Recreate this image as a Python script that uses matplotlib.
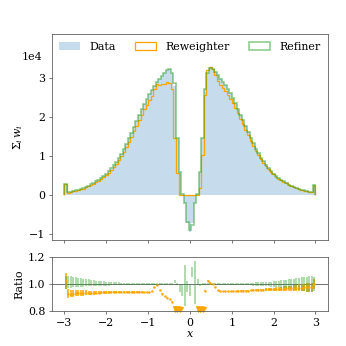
import numpy as np
import matplotlib
matplotlib.use("Agg")
import matplotlib.pyplot as plt
from matplotlib.patches import Patch

plt.rcParams['font.family'] = ['DejaVu Serif']
plt.rcParams['mathtext.fontset'] = 'dejavuserif'
plt.rcParams['font.size'] = 11

# 99 bins between -3 and 3
edges = np.linspace(-3, 3, 100)

# sum of weights in the data, units of 1e4
data = [0.28, 0.07, 0.085, 0.10, 0.12, 0.14, 0.16, 0.18, 0.21, 0.24,
        0.27, 0.31, 0.35, 0.39, 0.44, 0.49, 0.55, 0.61, 0.68, 0.76,
        0.85, 0.95, 1.06, 1.18, 1.31, 1.45, 1.59, 1.74, 1.89, 2.04,
        2.19, 2.33, 2.46, 2.58, 2.69, 2.79, 2.88, 2.96, 3.04, 3.12,
        3.20, 3.22, 3.12, 2.80, 1.45, 0.60, 0.03, -0.21, -0.70,
        -0.94,
        -0.70, -0.21, 0.03, 0.60, 1.45, 2.70, 3.12, 3.25, 3.22, 3.14,
        3.06, 2.98, 2.90, 2.81, 2.71, 2.60, 2.48, 2.35, 2.21, 2.06,
        1.91, 1.76, 1.61, 1.46, 1.32, 1.19, 1.07, 0.96, 0.86, 0.77,
        0.69, 0.62, 0.55, 0.49, 0.44, 0.39, 0.35, 0.31, 0.27, 0.24,
        0.21, 0.18, 0.16, 0.14, 0.12, 0.10, 0.085, 0.07, 0.26]

nan = np.nan
# reweighter / data
rw_ratio = [1.02, 0.93, 0.93, 0.93, 0.932, 0.932, 0.934, 0.934, 0.935, 0.935,
            0.936, 0.936, 0.937, 0.937, 0.938, 0.938, 0.939, 0.939, 0.94, 0.94,
            0.94, 0.94, 0.94, 0.94, 0.94, 0.94, 0.94, 0.94, 0.94, 0.94,
            0.94, 0.94, 0.94, 0.94, 0.945, 0.975, 0.99, 0.955, 0.93, 0.91,
            0.90, 0.89, 0.87, 0.52, 0.39, 0.0, nan, nan, nan,
            nan,
            nan, nan, 0.0, 0.3, 0.7, 0.95, 1.025, 1.01, 1.0, 0.975,
            0.955, 0.945, 0.945, 0.945, 0.945, 0.945, 0.946, 0.947, 0.948, 0.949,
            0.95, 0.951, 0.952, 0.953, 0.954, 0.955, 0.956, 0.957, 0.958, 0.96,
            0.961, 0.962, 0.963, 0.964, 0.965, 0.966, 0.967, 0.968, 0.969, 0.97,
            0.971, 0.972, 0.973, 0.974, 0.975, 0.975, 0.976, 0.976, 1.0]
rw_err = [0.06, 0.03, 0.028, 0.026, 0.024, 0.022, 0.021, 0.02, 0.018, 0.017,
          0.016, 0.015, 0.014, 0.013, 0.012, 0.011, 0.011, 0.01, 0.009, 0.009,
          0.008, 0.008, 0.007, 0.007, 0.006, 0.006, 0.006, 0.005, 0.005, 0.005,
          0.005, 0.004, 0.004, 0.004, 0.004, 0.004, 0.004, 0.004, 0.003, 0.003,
          0.003, 0.003, 0.003, 0.005, 0.008, 0.0, 0.0, 0.0, 0.0,
          0.0,
          0.0, 0.0, 0.0, 0.0, 0.008, 0.004, 0.003, 0.003, 0.003, 0.003,
          0.003, 0.003, 0.004, 0.004, 0.004, 0.004, 0.004, 0.004, 0.005, 0.005,
          0.005, 0.005, 0.006, 0.006, 0.006, 0.007, 0.007, 0.008, 0.008, 0.009,
          0.009, 0.01, 0.011, 0.012, 0.013, 0.014, 0.015, 0.016, 0.018, 0.019,
          0.021, 0.023, 0.025, 0.027, 0.029, 0.031, 0.033, 0.035, 0.04]

# refiner / data
rf_ratio = [1.01, 1.015, 1.015, 1.014, 1.013, 1.012, 1.011, 1.01, 1.01, 1.009,
            1.008, 1.007, 1.006, 1.005, 1.005, 1.004, 1.004, 1.003, 1.003, 1.002,
            1.002, 1.002, 1.001, 1.001, 1.001, 1.0, 1.0, 1.0, 1.0, 1.0,
            1.0, 1.0, 1.0, 1.0, 1.0, 1.0, 1.0, 1.0, 1.0, 1.0,
            1.0, 1.0, 1.0, 1.02, 1.0, 0.965, 0.95, 0.99, 0.98,
            0.95,
            1.09, 1.01, 1.02, 0.995, 1.0, 1.0, 1.0, 1.0, 1.0, 1.0,
            1.0, 1.0, 1.0, 1.0, 1.0, 1.0, 1.0, 1.0, 1.0, 1.0,
            1.0, 1.0, 1.0, 1.0, 1.0, 1.0, 1.0, 1.0, 1.0, 1.0,
            1.0, 1.0, 1.0, 1.0, 1.0, 1.0, 1.0, 1.0, 1.0, 1.0,
            1.0, 1.0, 1.0, 1.0, 1.0, 1.0, 1.0, 1.0, 1.0]
rf_err = [0.05, 0.045, 0.042, 0.039, 0.036, 0.033, 0.031, 0.029, 0.027, 0.025,
          0.023, 0.021, 0.02, 0.019, 0.017, 0.016, 0.015, 0.014, 0.013, 0.012,
          0.011, 0.01, 0.01, 0.009, 0.009, 0.008, 0.008, 0.007, 0.007, 0.007,
          0.006, 0.006, 0.006, 0.006, 0.005, 0.005, 0.005, 0.005, 0.005, 0.005,
          0.005, 0.005, 0.005, 0.01, 0.005, 0.025, 0.04, 0.15, 0.04,
          0.04,
          0.04, 0.16, 0.02, 0.007, 0.005, 0.005, 0.005, 0.005, 0.005, 0.005,
          0.005, 0.005, 0.005, 0.005, 0.005, 0.006, 0.006, 0.006, 0.007, 0.007,
          0.008, 0.008, 0.009, 0.01, 0.011, 0.012, 0.013, 0.014, 0.015, 0.016,
          0.018, 0.019, 0.021, 0.023, 0.025, 0.027, 0.029, 0.032, 0.035, 0.038,
          0.041, 0.044, 0.047, 0.05, 0.053, 0.056, 0.058, 0.06, 0.05]

centers = 0.5 * (edges[1:] + edges[:-1])
data = np.array(data) * 1e4
rw_ratio = np.array(rw_ratio)
rf_ratio = np.array(rf_ratio)
rw_err = np.array(rw_err)
rf_err = np.array(rf_err)
reweighter = data * np.nan_to_num(rw_ratio, nan=0.0)
refiner = data * rf_ratio

fig = plt.figure(figsize=(346 / 72, 346 / 72), dpi=72)
ax = fig.add_axes([0.150, 0.306, 0.798, 0.596])
rax = fig.add_axes([0.150, 0.101, 0.798, 0.156], sharex=ax)

spine_col = '0.35'
for a in (ax, rax):
    for s in a.spines.values():
        s.set_color(spine_col)
    a.tick_params(colors='black', length=3, color=spine_col)

ax.hist(centers, bins=edges, weights=data, histtype='stepfilled',
        color='C0', alpha=0.25, label='Data')
ax.hist(centers, bins=edges, weights=reweighter, histtype='step',
        color='orange', lw=1.3, label='Reweighter')
ax.hist(centers, bins=edges, weights=refiner, histtype='step',
        color='C2', alpha=0.55, lw=1.6, label='Refiner')

ax.set_xlim(-3.3, 3.3)
ax.set_ylim(-1.15e4, 4.12e4)
ax.set_yticks([-1e4, 0, 1e4, 2e4, 3e4])
ax.ticklabel_format(axis='y', style='sci', scilimits=(0, 0))
ax.yaxis.get_offset_text().set_visible(False)
ax.text(-0.035, 0.888, '1e4', transform=ax.transAxes, ha='right', va='center')
ax.set_ylabel(r'$\Sigma_i\, w_i$')
plt.setp(ax.get_xticklabels(), visible=False)

handles = [Patch(facecolor='C0', alpha=0.25, edgecolor='none'),
           Patch(facecolor='none', edgecolor='orange', lw=1.3),
           Patch(facecolor='none', edgecolor=(0.17, 0.63, 0.17, 0.55), lw=1.6)]
ax.legend(handles, ['Data', 'Reweighter', 'Refiner'], loc='upper center',
          ncol=3, frameon=False, handlelength=1.9, handletextpad=0.9,
          columnspacing=1.7, borderaxespad=0.3)

# ratio panel
rax.axhline(1.0, color='0.45', lw=1)
ok = np.isfinite(rw_ratio) & (rw_ratio >= 0.8)
rax.errorbar(centers[ok], rw_ratio[ok], yerr=rw_err[ok], fmt='s', ms=1.2,
             color='orange', elinewidth=1.5, capsize=0)
low = np.isfinite(rw_ratio) & (rw_ratio < 0.8)
rax.plot(centers[low], np.full(low.sum(), 0.815), 'v', color='orange', ms=5,
         clip_on=False)
rax.errorbar(centers, rf_ratio, yerr=rf_err, fmt='none', color='C2',
             alpha=0.5, elinewidth=1.5, capsize=0)

rax.set_ylim(0.8, 1.2)
rax.set_yticks([0.8, 1.0, 1.2])
rax.set_xticks([-3, -2, -1, 0, 1, 2, 3])
rax.set_ylabel('Ratio')
rax.set_xlabel(r'$x$', labelpad=1)

fig.savefig('out.png', dpi=72)
